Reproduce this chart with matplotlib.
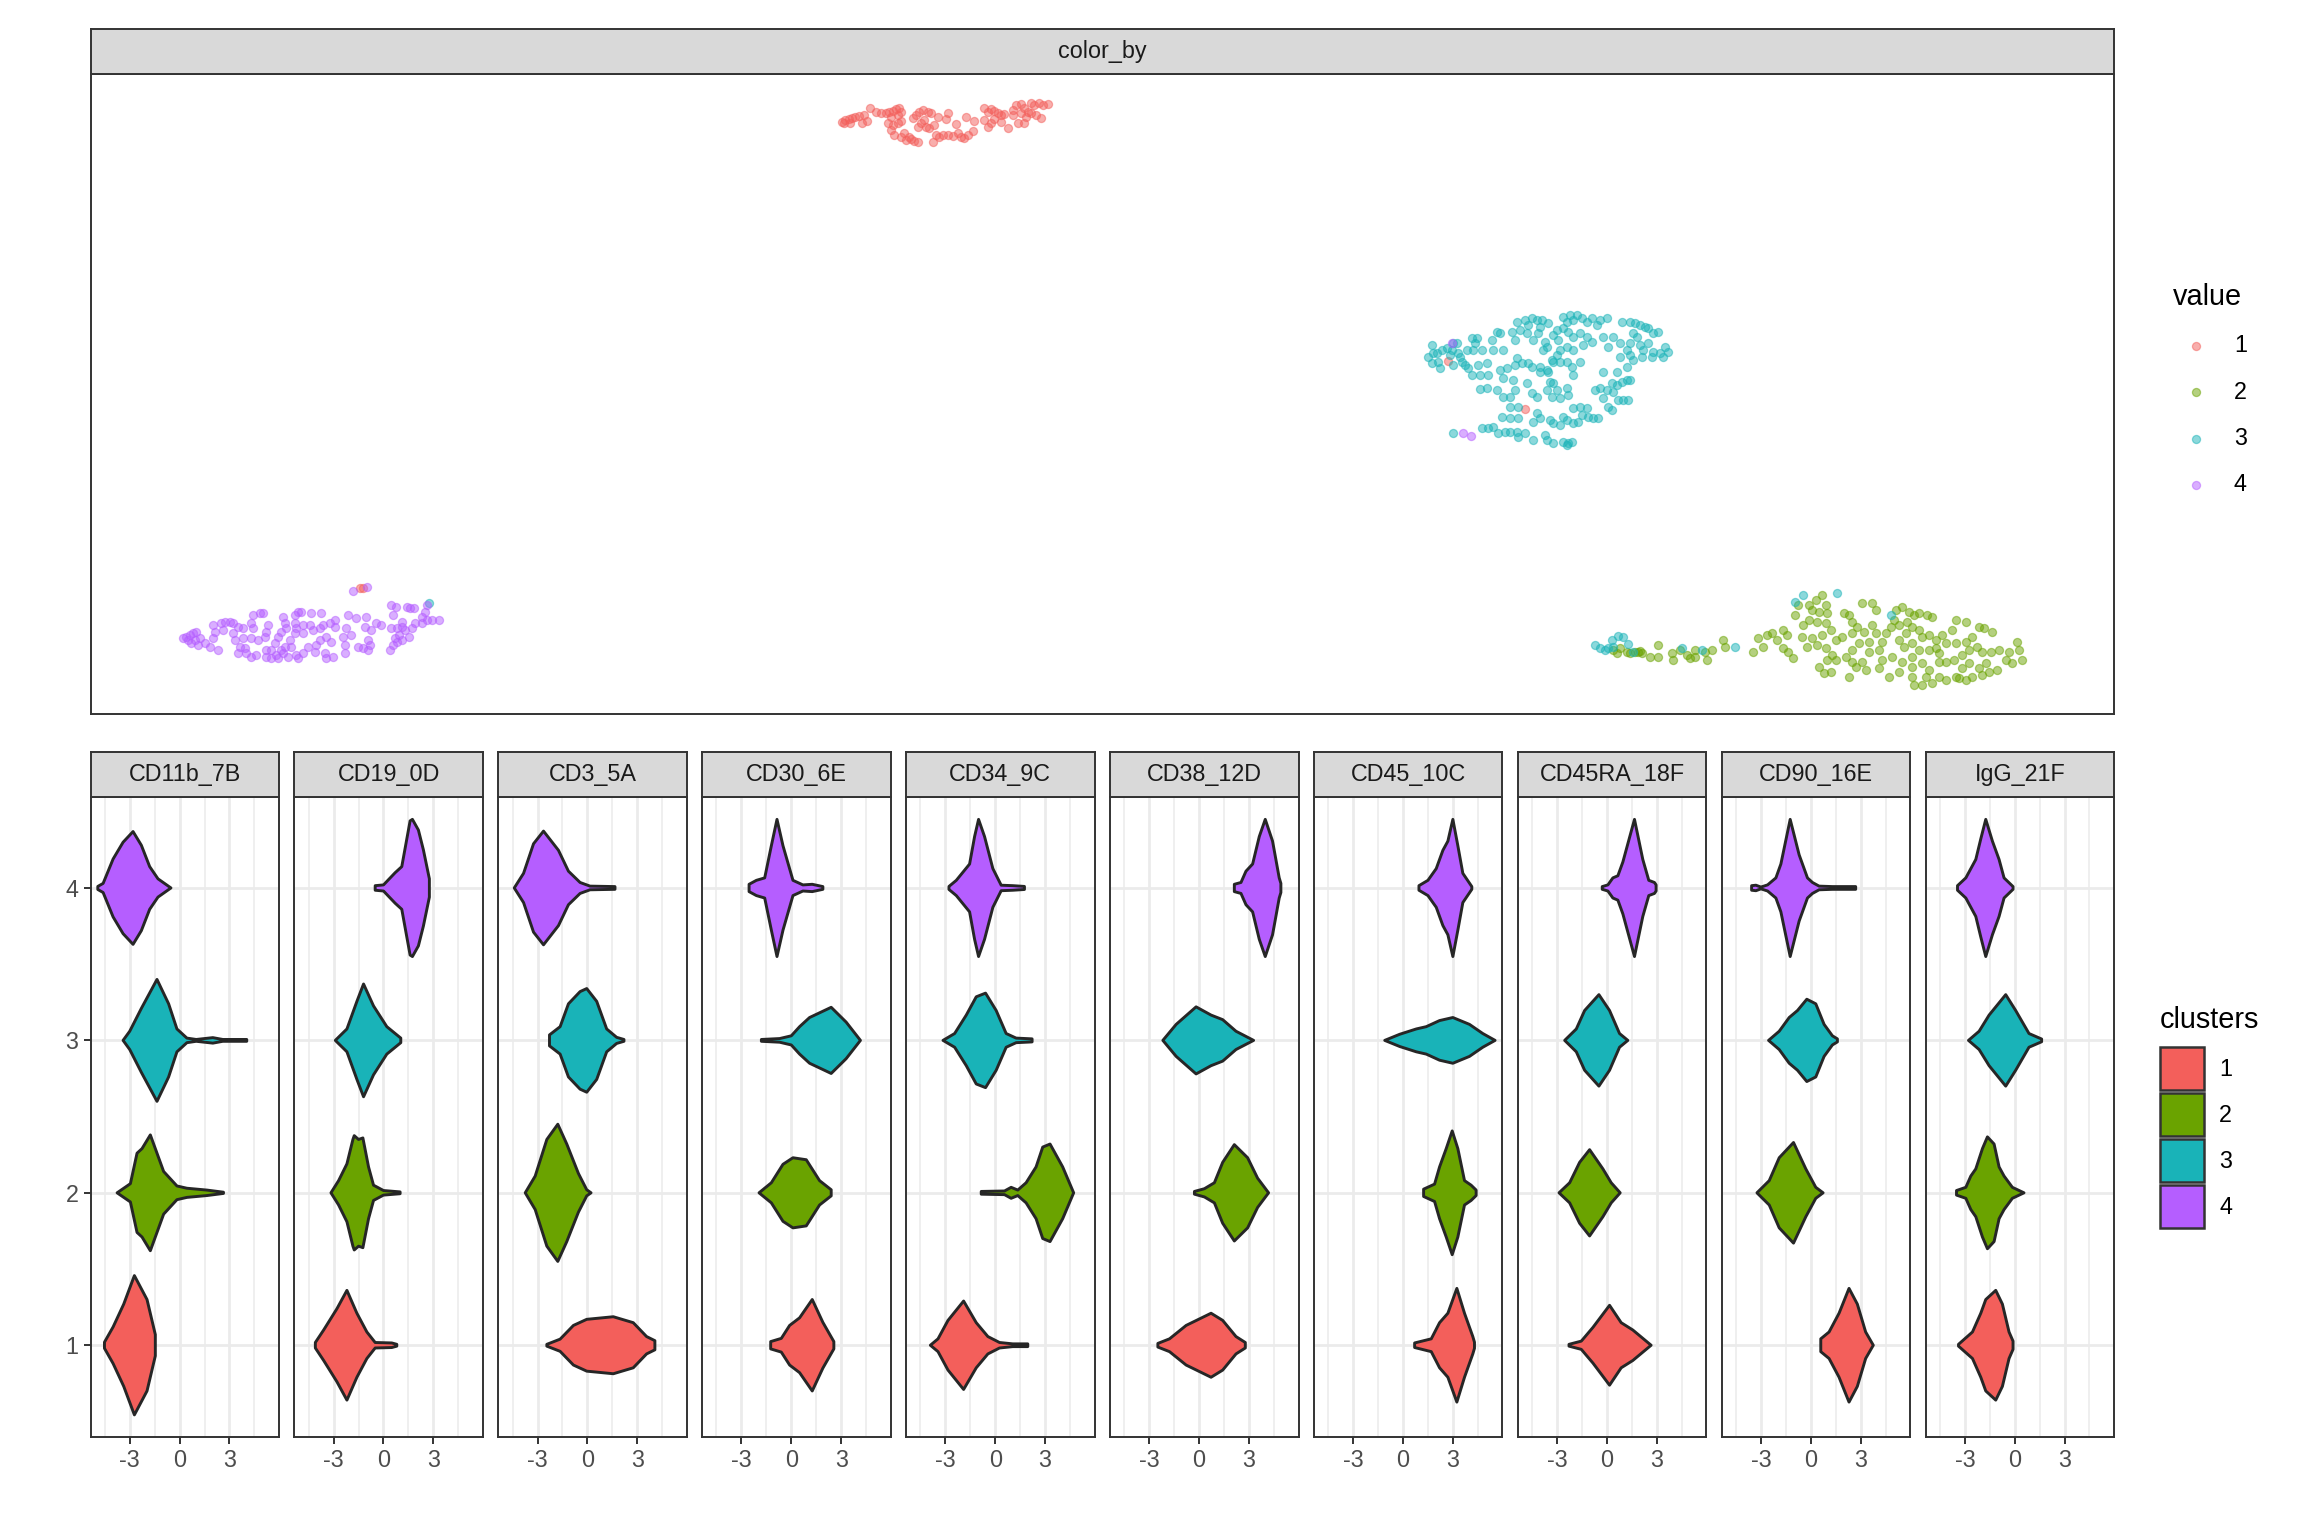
import matplotlib
matplotlib.use("Agg")
import matplotlib.pyplot as plt
from matplotlib.patches import Polygon, Rectangle

plt.rcParams["font.family"] = ["Liberation Sans", "DejaVu Sans"]
plt.rcParams["axes.unicode_minus"] = False

# ---------------- data ----------------
clusters = ["1", "2", "3", "4"]
pal = ["#F35F5B", "#6AA300", "#19B3B8", "#B55EFF"]

markers = ["CD11b_7B", "CD19_0D", "CD3_5A", "CD30_6E", "CD34_9C",
           "CD38_12D", "CD45_10C", "CD45RA_18F", "CD90_16E", "IgG_21F"]
x_ticks = [-3, 0, 3]
x_tick_labels = ["-3", "0", "3"]

# embedding coordinates, one list of (UMAP_1, UMAP_2) per colour value
val1_pts = [
    (8.40, 8.78), (8.43, 8.80), (8.47, 8.81), (8.50, 8.82), (8.53, 8.83), (8.57, 8.84), (8.62, 8.85),
    (8.42, 8.77), (8.48, 8.77), (8.60, 8.77), (8.65, 8.79), (8.69, 8.92), (8.75, 8.88), (8.80, 8.87),
    (8.85, 8.87), (8.88, 8.88), (8.92, 8.89), (8.95, 8.91), (8.98, 8.92), (9.00, 8.88), (8.97, 8.85),
    (8.90, 8.83), (8.87, 8.77), (8.92, 8.75), (8.97, 8.77), (9.00, 8.79), (8.90, 8.70), (8.93, 8.65),
    (9.00, 8.63), (9.05, 8.60), (9.10, 8.61), (9.13, 8.59), (9.17, 8.58), (9.08, 8.63), (9.03, 8.67),
    (9.12, 8.82), (9.15, 8.85), (9.18, 8.88), (9.22, 8.90), (9.27, 8.88), (9.30, 8.87), (9.23, 8.80),
    (9.20, 8.77), (9.17, 8.73), (9.25, 8.73), (9.28, 8.72), (9.33, 8.75), (9.37, 8.83), (9.35, 8.65),
    (9.38, 8.63), (9.32, 8.58), (9.42, 8.65), (9.47, 8.65), (9.52, 8.64), (9.57, 8.67), (9.60, 8.63),
    (9.63, 8.62), (9.67, 8.65), (9.72, 8.69), (9.47, 8.87), (9.45, 8.81), (9.55, 8.76), (9.65, 8.83),
    (9.73, 8.79), (9.83, 8.92), (9.87, 8.88), (9.90, 8.91), (9.93, 8.89), (9.97, 8.87), (10.00, 8.85),
    (10.03, 8.86), (9.83, 8.80), (9.87, 8.73), (9.90, 8.77), (9.93, 8.81), (10.00, 8.78), (10.07, 8.72),
    (10.12, 8.90), (10.15, 8.95), (10.20, 8.96), (10.23, 8.92), (10.27, 8.88), (10.30, 8.97), (10.33, 8.95),
    (10.38, 8.97), (10.42, 8.95), (10.47, 8.96), (10.20, 8.87), (10.25, 8.83), (10.30, 8.87), (10.35, 8.85),
    (10.40, 8.82), (10.17, 8.77), (10.23, 8.77), (10.12, 8.85),
    (14.48, 6.39), (15.25, 5.91), (3.57, 4.12), (3.60, 4.12),
]

val2_pts = [
    (16.20, 3.52), (16.27, 3.48), (16.35, 3.48), (16.40, 3.49), (16.42, 3.47), (16.50, 3.43), (16.58, 3.55),
    (16.58, 3.43), (16.72, 3.47), (16.73, 3.40), (16.80, 3.50), (16.87, 3.45), (16.90, 3.42), (16.95, 3.50),
    (16.95, 3.43), (17.05, 3.48), (17.07, 3.40), (17.12, 3.50), (17.23, 3.60), (17.25, 3.53), (16.38, 3.48),
    (16.30, 3.47), (16.13, 3.50), (16.17, 3.47),
    (17.53, 3.48), (17.58, 3.62), (17.63, 3.53), (17.67, 3.65), (17.72, 3.67), (17.77, 3.60), (17.83, 3.70),
    (17.87, 3.65), (17.83, 3.52), (17.88, 3.48), (17.93, 3.42), (17.95, 3.85), (17.98, 3.95), (18.03, 3.75),
    (18.02, 3.63), (18.07, 3.53), (18.10, 3.95), (18.13, 3.90), (18.17, 4.00), (18.20, 3.88), (18.23, 4.05),
    (18.27, 3.95), (18.28, 3.87), (18.10, 3.80), (18.18, 3.78), (18.27, 3.77), (18.32, 3.70), (18.23, 3.65),
    (18.13, 3.62), (18.18, 3.55), (18.27, 3.52), (18.33, 3.45), (18.37, 3.40), (18.28, 3.40), (18.20, 3.33),
    (18.25, 3.27), (18.32, 3.28), (18.37, 3.60), (18.43, 3.63), (18.45, 3.87), (18.50, 3.85), (18.53, 3.78),
    (18.58, 3.73), (18.53, 3.67), (18.63, 3.97), (18.73, 3.97), (18.77, 3.90), (18.65, 3.68), (18.73, 3.75),
    (18.77, 3.67), (18.70, 3.58), (18.60, 3.57), (18.53, 3.50), (18.47, 3.43), (18.53, 3.38), (18.57, 3.33),
    (18.50, 3.23), (18.63, 3.38), (18.67, 3.30), (18.70, 3.48), (18.80, 3.50), (18.83, 3.58), (18.87, 3.67),
    (18.92, 3.73), (18.95, 3.80), (18.97, 3.90), (19.03, 3.93), (19.10, 3.88), (19.15, 3.85), (19.20, 3.87),
    (19.28, 3.85), (19.33, 3.83), (19.00, 3.75), (19.08, 3.78), (19.13, 3.73), (19.20, 3.70), (19.07, 3.67),
    (19.00, 3.60), (19.05, 3.53), (19.13, 3.57), (19.23, 3.63), (19.30, 3.65), (19.37, 3.60), (19.43, 3.65),
    (19.53, 3.70), (19.57, 3.80), (19.67, 3.78), (19.80, 3.73), (19.85, 3.72), (19.93, 3.68), (19.73, 3.63),
    (19.67, 3.58), (19.57, 3.57), (19.47, 3.57), (19.37, 3.52), (19.40, 3.47), (19.30, 3.50), (19.20, 3.50),
    (19.13, 3.43), (19.03, 3.38), (18.93, 3.43), (18.83, 3.40), (18.80, 3.32), (18.90, 3.23), (19.00, 3.28),
    (19.13, 3.33), (19.23, 3.37), (19.30, 3.30), (19.40, 3.38), (19.47, 3.38), (19.55, 3.40), (19.63, 3.45),
    (19.70, 3.50), (19.78, 3.53), (19.83, 3.48), (19.92, 3.48), (20.00, 3.50), (20.10, 3.48), (20.18, 3.58),
    (20.20, 3.50), (20.23, 3.40), (20.13, 3.37), (20.07, 3.40), (19.98, 3.30), (19.90, 3.28), (19.80, 3.32),
    (19.70, 3.37), (19.63, 3.32), (19.57, 3.23), (19.47, 3.20), (19.40, 3.23), (19.33, 3.17), (19.23, 3.15),
    (19.15, 3.15), (19.13, 3.23), (19.27, 3.23), (19.67, 3.20), (19.73, 3.23), (19.60, 3.22), (19.83, 3.25),
    (19.87, 3.37),
]

val3_pts = [
    (14.32, 6.55), (14.28, 6.43), (14.33, 6.47), (14.37, 6.47), (14.42, 6.50), (14.38, 6.38), (14.32, 6.37),
    (14.40, 6.32), (14.47, 6.52), (14.52, 6.50), (14.53, 6.57), (14.57, 6.57), (14.50, 6.45), (14.58, 6.47),
    (14.53, 6.35), (14.62, 6.38), (14.60, 6.43), (14.72, 6.62), (14.77, 6.62), (14.75, 6.57), (14.67, 6.50),
    (14.73, 6.50), (14.65, 6.35), (14.68, 6.32), (14.72, 6.25), (14.80, 6.25), (14.78, 6.35), (14.87, 6.37),
    (14.88, 6.25), (14.92, 6.60), (14.97, 6.68), (15.00, 6.67), (14.93, 6.50), (15.03, 6.50), (14.82, 6.50),
    (15.12, 6.68), (15.17, 6.78), (15.20, 6.70), (15.25, 6.80), (15.28, 6.75), (15.32, 6.82), (15.37, 6.80),
    (15.42, 6.80), (15.40, 6.73), (15.48, 6.77), (15.27, 6.67), (15.33, 6.60), (15.38, 6.67), (15.45, 6.58),
    (15.53, 6.65), (15.57, 6.70), (15.58, 6.60), (15.63, 6.83), (15.67, 6.78), (15.70, 6.85), (15.73, 6.80),
    (15.77, 6.85), (15.82, 6.82), (15.87, 6.78), (15.92, 6.82), (15.63, 6.72), (15.68, 6.68), (15.73, 6.63),
    (15.80, 6.67), (15.87, 6.63), (15.92, 6.58), (15.83, 6.55), (15.73, 6.50), (15.67, 6.53), (15.60, 6.50),
    (15.57, 6.45), (15.52, 6.40), (15.47, 6.53), (15.43, 6.50), (15.15, 6.60), (15.17, 6.42), (15.15, 6.35),
    (15.22, 6.37), (15.28, 6.37), (15.32, 6.33), (15.40, 6.33), (15.47, 6.30), (15.53, 6.38), (15.60, 6.38),
    (15.67, 6.38), (15.72, 6.33), (15.80, 6.38), (15.73, 6.25), (15.50, 6.18), (15.48, 6.28), (15.40, 6.28),
    (16.00, 6.80), (16.07, 6.82), (15.97, 6.75), (16.03, 6.63), (16.08, 6.53), (16.03, 6.28), (16.17, 6.28),
    (16.22, 6.78), (16.30, 6.78), (16.35, 6.77), (16.40, 6.75), (16.45, 6.73), (16.48, 6.72), (16.53, 6.67),
    (16.58, 6.68), (16.37, 6.63), (16.30, 6.57), (16.27, 6.50), (16.20, 6.57), (16.20, 6.43), (16.30, 6.45),
    (16.33, 6.40), (16.27, 6.33), (16.40, 6.55), (16.43, 6.50), (16.48, 6.57), (16.53, 6.48), (16.60, 6.47),
    (16.65, 6.53), (16.68, 6.48), (16.63, 6.43), (16.52, 6.43), (16.42, 6.43), (16.33, 6.67), (16.13, 6.63),
    (15.07, 6.32), (15.00, 6.30), (15.03, 6.22), (15.13, 6.20), (15.15, 6.10), (15.10, 6.03), (15.03, 6.03),
    (14.97, 6.10), (14.87, 6.12), (14.80, 6.11), (15.10, 5.93), (15.18, 5.93), (15.32, 6.07), (15.37, 6.03),
    (15.47, 6.10), (15.52, 6.03), (15.57, 6.10), (15.67, 6.12), (15.68, 6.05), (15.60, 6.02), (15.53, 6.17),
    (15.27, 6.17), (15.95, 6.10), (16.00, 6.12), (16.07, 6.10), (16.12, 6.17), (16.17, 6.15), (16.22, 6.18),
    (16.27, 6.20), (16.30, 6.20), (16.13, 6.08), (16.18, 6.00), (16.23, 6.00), (16.28, 6.00), (16.03, 6.02),
    (16.08, 5.93), (16.12, 5.90), (15.73, 5.92), (15.80, 5.93), (15.87, 5.92), (15.82, 5.85), (15.88, 5.83),
    (15.93, 5.82), (15.98, 5.82), (15.78, 5.78), (15.73, 5.77), (15.67, 5.80), (15.63, 5.83), (15.60, 5.75),
    (15.53, 5.77), (15.50, 5.80), (15.40, 5.82), (15.37, 5.87), (15.33, 5.78), (15.18, 5.82), (15.10, 5.82),
    (15.02, 5.83), (14.93, 5.73), (14.88, 5.72), (14.82, 5.72), (14.98, 5.67), (15.05, 5.68), (15.10, 5.68),
    (15.17, 5.68), (15.25, 5.67), (15.18, 5.63), (15.33, 5.60), (15.45, 5.65), (15.47, 5.60), (15.53, 5.57),
    (15.63, 5.58), (15.68, 5.57), (15.67, 5.55), (15.72, 5.58), (14.53, 5.67),
    (15.95, 3.55), (16.00, 3.52), (16.05, 3.50), (16.12, 3.60), (16.13, 3.53), (16.18, 3.64), (16.23, 3.63),
    (16.28, 3.56), (16.33, 3.48), (16.08, 3.52), (16.82, 3.52), (17.02, 3.50), (17.35, 3.53), (17.95, 3.98),
    (18.03, 4.05), (18.38, 4.07), (18.92, 3.85),
    (4.27, 3.97),
]

val4_pts = [
    (1.80, 3.62), (1.83, 3.63), (1.87, 3.65), (1.90, 3.67), (1.93, 3.68), (1.85, 3.60), (1.92, 3.60),
    (1.97, 3.62), (1.88, 3.57), (1.95, 3.55), (2.02, 3.57), (2.07, 3.53), (2.15, 3.50), (2.10, 3.62),
    (2.12, 3.68), (2.10, 3.75), (2.18, 3.77), (2.20, 3.70), (2.22, 3.78), (2.27, 3.78), (2.30, 3.77),
    (2.35, 3.73), (2.40, 3.72), (2.30, 3.67), (2.32, 3.60), (2.37, 3.53), (2.42, 3.52), (2.35, 3.47),
    (2.43, 3.47), (2.48, 3.43), (2.53, 3.45), (2.40, 3.62), (2.48, 3.62), (2.55, 3.60), (2.50, 3.72),
    (2.48, 3.77), (2.50, 3.85), (2.57, 3.87), (2.60, 3.87), (2.65, 3.75), (2.63, 3.68), (2.62, 3.63),
    (2.63, 3.50), (2.68, 3.50), (2.63, 3.43), (2.68, 3.42), (2.73, 3.45), (2.75, 3.42), (2.78, 3.50),
    (2.72, 3.57), (2.75, 3.63), (2.78, 3.68), (2.83, 3.72), (2.82, 3.77), (2.80, 3.83), (2.92, 3.85),
    (2.95, 3.88), (2.98, 3.88), (2.92, 3.77), (2.93, 3.72), (3.00, 3.75), (3.07, 3.75), (3.10, 3.70),
    (3.17, 3.72), (3.20, 3.75), (3.27, 3.77), (3.32, 3.73), (3.08, 3.87), (3.18, 3.87), (3.00, 3.67),
    (2.92, 3.67), (2.87, 3.60), (2.88, 3.53), (2.82, 3.53), (2.80, 3.47), (2.85, 3.43), (2.93, 3.45),
    (2.95, 3.42), (3.00, 3.47), (3.05, 3.53), (3.12, 3.48), (3.13, 3.55), (3.17, 3.60), (3.23, 3.63),
    (3.28, 3.58), (3.22, 3.47), (3.23, 3.42), (3.30, 3.43), (3.42, 3.47), (3.42, 3.55), (3.40, 3.63),
    (3.43, 3.72), (3.48, 3.65), (3.55, 3.53), (3.60, 3.52), (3.65, 3.50), (3.67, 3.55), (3.65, 3.60),
    (3.62, 3.73), (3.68, 3.70), (3.73, 3.77), (3.78, 3.75), (3.88, 3.72), (3.95, 3.72), (4.00, 3.73),
    (4.03, 3.70), (3.97, 3.65), (3.92, 3.62), (3.95, 3.58), (4.00, 3.60), (4.07, 3.63), (3.90, 3.55),
    (3.87, 3.50), (3.53, 3.82), (3.45, 3.85), (3.32, 3.80), (3.63, 3.83), (3.90, 3.85), (3.88, 3.95),
    (3.93, 3.93), (4.05, 3.93), (4.08, 3.92), (4.12, 3.92), (4.00, 3.78), (4.13, 3.77), (4.20, 3.83),
    (4.25, 3.80), (4.30, 3.80), (4.37, 3.80), (4.23, 3.88), (4.25, 3.95), (4.20, 3.77), (4.10, 3.72),
    (3.50, 4.09), (3.64, 4.13),
    (14.52, 6.57), (14.63, 5.67), (14.71, 5.64),
]
scatter_groups = [val1_pts, val2_pts, val3_pts, val4_pts]

# violin outlines: value positions and half widths, clusters 1..4
cd11b_x = [[-4.52, -4.0, -3.36, -2.72, -1.96, -1.46],
           [-3.76, -2.96, -2.56, -2.26, -1.76, -0.96, -0.16, 0.44, 1.64, 2.64],
           [-3.4, -3.0, -2.3, -1.36, -0.66, -0.16, 0.44, 1.0, 2.0, 2.6, 4.04],
           [-4.92, -4.6, -4.0, -3.4, -2.8, -2.3, -1.8, -1.3, -0.52]]
cd11b_w = [[0.02, 0.12, 0.27, 0.457, 0.30, 0.07],
           [0.0, 0.06, 0.26, 0.29, 0.38, 0.14, 0.045, 0.03, 0.018, 0.004],
           [0.0, 0.06, 0.21, 0.40, 0.24, 0.075, 0.015, 0.006, 0.018, 0.006, 0.006],
           [0.01, 0.03, 0.19, 0.30, 0.37, 0.28, 0.14, 0.06, 0.0]]

cd19_x = [[-4.1, -3.6, -2.8, -2.2, -1.6, -1.0, -0.5, 0.5, 0.8],
          [-3.16, -2.7, -2.2, -1.84, -1.76, -1.5, -1.24, -0.9, -0.6, 0.0, 1.0],
          [-2.9, -2.2, -1.6, -1.2, -0.6, 0.2, 1.04],
          [-0.5, 0.0, 0.7, 1.1, 1.6, 1.74, 2.1, 2.4, 2.76]]
cd19_w = [[0.018, 0.10, 0.24, 0.36, 0.21, 0.087, 0.018, 0.015, 0.006],
          [0.0, 0.08, 0.19, 0.35, 0.375, 0.35, 0.36, 0.17, 0.05, 0.015, 0.006],
          [0.0, 0.075, 0.256, 0.37, 0.226, 0.09, 0.015],
          [0.015, 0.02, 0.10, 0.14, 0.44, 0.45, 0.38, 0.25, 0.06]]

cd3_x = [[-2.44, -1.64, -0.84, -0.04, 1.56, 2.76, 3.56, 4.06],
         [-3.74, -3.14, -2.44, -1.78, -1.24, -0.54, -0.04, 0.22],
         [-2.28, -1.64, -1.14, -0.44, -0.04, 0.56, 1.16, 1.76, 2.2],
         [-4.4, -3.84, -3.24, -2.64, -1.74, -1.14, -0.44, 0.16, 1.66]]
cd3_w = [[0.006, 0.04, 0.13, 0.17, 0.187, 0.148, 0.057, 0.03],
         [0.0, 0.11, 0.35, 0.45, 0.32, 0.127, 0.02, 0.0],
         [0.036, 0.09, 0.24, 0.32, 0.34, 0.256, 0.075, 0.02, 0.006],
         [0.0, 0.096, 0.29, 0.373, 0.247, 0.11, 0.036, 0.012, 0.009]]

cd30_x = [[-1.24, -0.6, -0.1, 0.5, 1.26, 1.9, 2.56],
          [-1.94, -1.2, -0.5, 0.1, 0.9, 1.7, 2.4],
          [-1.8, -0.7, 0.0, 0.5, 1.1, 2.4, 3.3, 4.16],
          [-2.54, -2.1, -1.6, -1.2, -0.86, -0.5, 0.1, 0.7, 1.26, 1.9]]
cd30_w = [[0.024, 0.045, 0.13, 0.18, 0.30, 0.15, 0.024],
          [0.0, 0.066, 0.187, 0.23, 0.217, 0.08, 0.02],
          [0.006, 0.012, 0.03, 0.09, 0.15, 0.217, 0.12, 0.0],
          [0.024, 0.05, 0.066, 0.277, 0.45, 0.277, 0.05, 0.02, 0.024, 0.009]]

cd34_x = [[-3.9, -3.44, -2.84, -1.9, -1.14, -0.44, 0.26, 1.06, 1.96],
          [-0.84, 0.56, 0.96, 1.36, 1.86, 2.46, 2.86, 3.3, 4.06, 4.72],
          [-3.14, -2.44, -1.74, -1.14, -0.58, 0.06, 0.66, 1.26, 2.22],
          [-2.78, -2.34, -1.54, -1.24, -1.0, -0.64, -0.14, 0.36, 1.06, 1.76]]
cd34_w = [[0.0, 0.042, 0.163, 0.29, 0.148, 0.057, 0.018, 0.009, 0.009],
          [0.009, 0.012, 0.036, 0.018, 0.066, 0.17, 0.30, 0.32, 0.17, 0.0],
          [0.0, 0.045, 0.166, 0.286, 0.31, 0.196, 0.045, 0.015, 0.01],
          [0.01, 0.05, 0.157, 0.337, 0.45, 0.337, 0.127, 0.018, 0.015, 0.01]]

cd38_x = [[-2.48, -1.78, -0.78, 0.72, 1.42, 2.22, 2.78],
          [-0.28, 0.32, 0.92, 1.42, 2.12, 2.92, 3.52, 4.18],
          [-2.18, -1.38, -0.18, 0.72, 1.42, 2.22, 3.28],
          [2.12, 2.52, 2.82, 3.22, 3.62, 3.98, 4.42, 4.82, 4.92]]
cd38_w = [[0.012, 0.042, 0.13, 0.21, 0.163, 0.057, 0.018],
          [0.009, 0.027, 0.066, 0.20, 0.316, 0.23, 0.096, 0.0],
          [0.0, 0.105, 0.22, 0.166, 0.136, 0.06, 0.0],
          [0.024, 0.036, 0.11, 0.157, 0.337, 0.45, 0.307, 0.066, 0.03]]

cd45_x = [[0.7, 1.7, 2.2, 2.7, 3.24, 3.7, 4.2, 4.3],
          [1.24, 1.9, 2.2, 2.6, 2.96, 3.3, 3.7, 4.1, 4.4],
          [-1.1, -0.2, 0.8, 1.4, 2.2, 3.0, 4.0, 4.8, 5.54],
          [0.96, 1.5, 2.0, 2.4, 2.7, 3.0, 3.3, 3.6, 4.14]]
cd45_w = [[0.015, 0.042, 0.148, 0.21, 0.373, 0.21, 0.057, 0.02],
          [0.024, 0.057, 0.17, 0.29, 0.406, 0.29, 0.08, 0.05, 0.018],
          [0.0, 0.04, 0.075, 0.09, 0.13, 0.15, 0.105, 0.045, 0.0],
          [0.015, 0.05, 0.127, 0.247, 0.307, 0.45, 0.277, 0.096, 0.009]]

cd45ra_x = [[-2.28, -1.54, -0.84, 0.16, 0.86, 1.56, 2.66],
            [-2.88, -2.24, -1.64, -1.04, -0.24, 0.26, 0.8],
            [-2.54, -1.84, -1.34, -0.48, 0.16, 0.76, 1.26],
            [-0.28, 0.06, 0.36, 0.66, 0.96, 1.66, 2.16, 2.52, 2.86, 2.96]]
cd45ra_w = [[0.006, 0.027, 0.117, 0.262, 0.148, 0.10, 0.0],
            [0.0, 0.066, 0.20, 0.283, 0.157, 0.066, 0.0],
            [0.0, 0.075, 0.196, 0.30, 0.196, 0.045, 0.0],
            [0.009, 0.02, 0.066, 0.08, 0.17, 0.45, 0.187, 0.05, 0.036, 0.02]]

cd90_x = [[0.6, 1.1, 1.7, 2.3, 2.8, 3.3, 3.76],
          [-3.24, -2.5, -1.9, -1.04, -0.3, 0.3, 0.74],
          [-2.54, -1.9, -1.3, -0.8, -0.24, 0.3, 0.8, 1.3, 1.6],
          [-3.56, -3.3, -3.0, -2.6, -2.1, -1.8, -1.24, -0.7, -0.2, 0.1, 0.5, 1.3, 2.7]]
cd90_w = [[0.042, 0.087, 0.21, 0.373, 0.27, 0.087, 0.0],
          [0.0, 0.08, 0.23, 0.33, 0.157, 0.036, 0.0],
          [0.0, 0.06, 0.15, 0.196, 0.27, 0.24, 0.105, 0.03, 0.01],
          [0.015, 0.018, 0.006, 0.02, 0.066, 0.157, 0.45, 0.217, 0.066, 0.036, 0.012, 0.009, 0.009]]

igg_x = [[-3.38, -2.54, -2.04, -1.74, -1.44, -1.14, -0.74, -0.34, -0.1],
         [-3.5, -2.94, -2.64, -2.34, -1.94, -1.64, -1.24, -0.94, -0.64, -0.14, 0.56],
         [-2.78, -2.14, -1.54, -0.54, 0.06, 0.86, 1.62],
         [-3.44, -2.94, -2.34, -2.04, -1.74, -1.34, -0.94, -0.64, -0.1]]
igg_w = [[0.006, 0.087, 0.21, 0.30, 0.33, 0.36, 0.27, 0.087, 0.027],
         [0.015, 0.036, 0.11, 0.157, 0.29, 0.367, 0.32, 0.17, 0.11, 0.036, 0.0],
         [0.0, 0.06, 0.166, 0.30, 0.196, 0.045, 0.009],
         [0.015, 0.066, 0.187, 0.322, 0.45, 0.307, 0.187, 0.066, 0.009]]

violin_x = [cd11b_x, cd19_x, cd3_x, cd30_x, cd34_x, cd38_x, cd45_x, cd45ra_x, cd90_x, igg_x]
violin_w = [cd11b_w, cd19_w, cd3_w, cd30_w, cd34_w, cd38_w, cd45_w, cd45ra_w, cd90_w, igg_w]

# ---------------- layout ----------------
W, H = 2304, 1536
fig = plt.figure(figsize=(W / 100, H / 100), dpi=100, facecolor="white")

BORDER = "#333333"
STRIP_BG = "#D9D9D9"
GRID = "#EBEBEB"
FS_SMALL = 16.8
FS_TITLE = 20.8
PT_SIZE = 34


def px_axes(x0, y0, x1, y1, **kw):
    return fig.add_axes([x0 / W, 1 - y1 / H, (x1 - x0) / W, (y1 - y0) / H], **kw)


def strip(x0, y0, x1, y1, label):
    s = px_axes(x0, y0, x1, y1, facecolor=STRIP_BG)
    s.set_xticks([])
    s.set_yticks([])
    for sp in s.spines.values():
        sp.set_color(BORDER)
        sp.set_linewidth(1.4)
    s.text(0.5, 0.5, label, transform=s.transAxes, ha="center", va="center",
           fontsize=FS_SMALL, color="#1A1A1A")


# top: embedding scatter
ax_top = px_axes(91, 73.5, 2114, 714)
for pts, col in zip(scatter_groups, pal):
    xs = [p[0] for p in pts]
    ys = [p[1] for p in pts]
    ax_top.scatter(xs, ys, s=PT_SIZE, color=col, alpha=0.5, linewidths=0.9,
                   edgecolors=col, zorder=3)
ax_top.margins(0.05)
ax_top.set_xticks([])
ax_top.set_yticks([])
for sp in ax_top.spines.values():
    sp.set_color(BORDER)
    sp.set_linewidth(1.4)
strip(91, 29.4, 2114, 73.5, "color_by")

# bottom: violins per marker
pitch = 203.9
pw = 188.5
for i, name in enumerate(markers):
    x0 = 90.5 + i * pitch
    ax = px_axes(x0, 796.5, x0 + pw, 1436.7)
    ax.set_xlim(-5.36, 5.98)
    ax.set_ylim(0.4, 4.6)
    ax.set_xticks(x_ticks)
    ax.set_xticklabels(x_tick_labels)
    ax.set_xticks([-4.5, -1.5, 1.5, 4.5], minor=True)
    ax.set_yticks([1, 2, 3, 4])
    ax.grid(which="major", color=GRID, linewidth=2.0)
    ax.grid(which="minor", axis="x", color=GRID, linewidth=1.1)
    ax.set_axisbelow(True)
    ax.tick_params(which="minor", length=0)
    ax.tick_params(which="major", direction="out", length=4.8, width=1.4,
                   color=BORDER, labelsize=FS_SMALL, labelcolor="#4D4D4D", pad=4)
    if i == 0:
        ax.set_yticklabels(clusters)
    else:
        ax.set_yticklabels([])
        ax.tick_params(axis="y", which="both", length=0)
    for sp in ax.spines.values():
        sp.set_color(BORDER)
        sp.set_linewidth(1.4)
    for k in range(4):
        xs = violin_x[i][k]
        ws = violin_w[i][k]
        yc = k + 1
        outline = [(x, yc + w) for x, w in zip(xs, ws)]
        outline += [(x, yc - w) for x, w in zip(xs[::-1], ws[::-1])]
        ax.add_patch(Polygon(outline, closed=True, facecolor=pal[k],
                             edgecolor="#262626", linewidth=2.1,
                             joinstyle="round", zorder=3))
    strip(x0, 752.4, x0 + pw, 796.5, name)

# legends drawn on a full-figure overlay in pixel units
ov = fig.add_axes([0, 0, 1, 1], facecolor="none")
ov.set_xlim(0, W)
ov.set_ylim(H, 0)
ov.axis("off")

ov.text(2172.7, 296.7, "value", ha="left", va="center", fontsize=FS_TITLE, color="black")
for j, (lab, col) in enumerate(zip(clusters, pal)):
    yy = 346 + j * 46.3
    ov.scatter([2195.7], [yy], s=PT_SIZE, color=col, alpha=0.5, linewidths=0.9, edgecolors=col)
    ov.text(2234, yy, lab, ha="left", va="center", fontsize=FS_SMALL, color="black")

ov.text(2160, 1020, "clusters", ha="left", va="center", fontsize=FS_TITLE, color="black")
for j, (lab, col) in enumerate(zip(clusters, pal)):
    yt = 1047.3 + j * 46.0
    ov.add_patch(Rectangle((2160, yt), 44, 43, facecolor=col, edgecolor=BORDER, linewidth=1.8))
    ov.text(2219, yt + 22, lab, ha="left", va="center", fontsize=FS_SMALL, color="black")

fig.savefig("out.png", dpi=100, facecolor="white")
